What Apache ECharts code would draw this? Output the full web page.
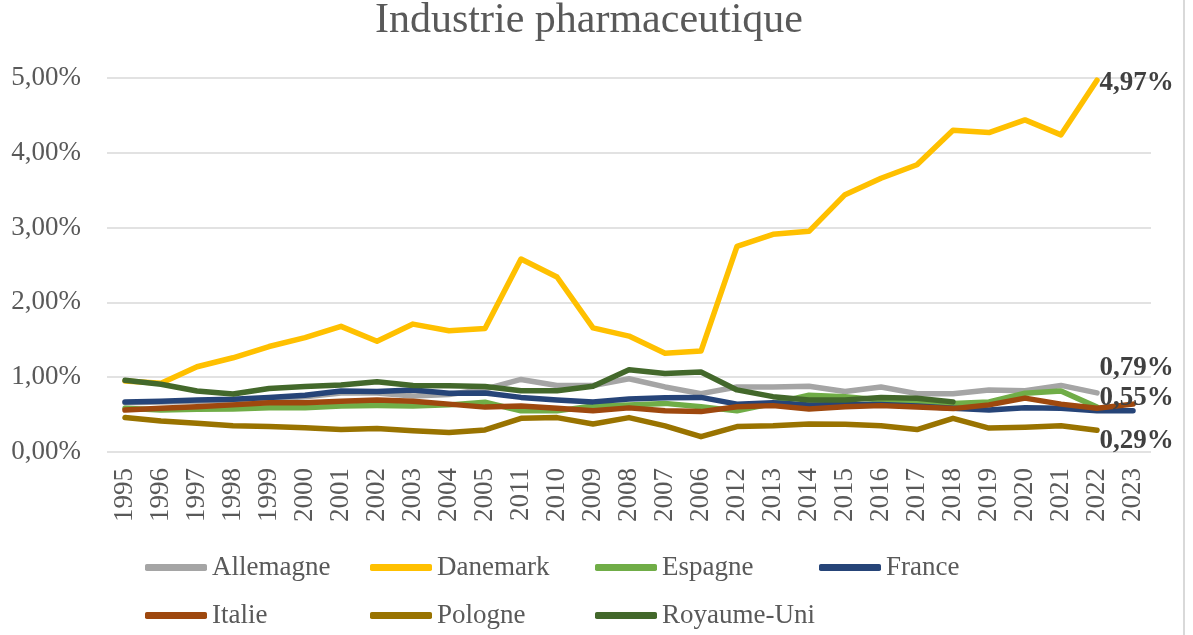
<!DOCTYPE html>
<html>
<head>
<meta charset="utf-8">
<script src="https://cdn.jsdelivr.net/npm/echarts@6/dist/echarts.min.js"></script>
<style>html,body{margin:0;padding:0;background:#fff}#c{width:1193px;height:635px}</style>
</head>
<body>
<div id="c"></div>
<script>
const categories = ['1995','1996','1997','1998','1999','2000','2001','2002','2003','2004','2005','2011','2010','2009','2008','2007','2006','2012','2013','2014','2015','2016','2017','2018','2019','2020','2021','2022','2023'];
const allemagne = [0.66,0.67,0.68,0.69,0.71,0.74,0.79,0.79,0.75,0.77,0.84,0.97,0.89,0.89,0.98,0.87,0.78,0.87,0.87,0.88,0.81,0.87,0.78,0.78,0.83,0.82,0.89,0.79,null];
const danemark = [0.95,0.92,1.14,1.26,1.41,1.53,1.68,1.48,1.71,1.62,1.65,2.58,2.34,1.66,1.55,1.32,1.35,2.75,2.91,2.95,3.44,3.66,3.84,4.30,4.27,4.44,4.24,4.97,null];
const espagne = [0.585,0.56,0.57,0.575,0.59,0.59,0.615,0.62,0.615,0.63,0.665,0.55,0.55,0.615,0.63,0.65,0.605,0.55,0.65,0.76,0.74,0.695,0.67,0.65,0.67,0.785,0.815,0.60,null];
const france = [0.67,0.68,0.695,0.705,0.73,0.76,0.815,0.81,0.83,0.785,0.79,0.73,0.695,0.67,0.71,0.725,0.73,0.64,0.66,0.63,0.635,0.635,0.615,0.585,0.56,0.59,0.585,0.55,0.55];
const italie = [0.56,0.585,0.605,0.63,0.66,0.66,0.68,0.695,0.68,0.64,0.60,0.615,0.585,0.55,0.59,0.55,0.54,0.605,0.62,0.575,0.605,0.62,0.60,0.58,0.63,0.72,0.64,0.585,0.64];
const pologne = [0.46,0.415,0.385,0.35,0.34,0.325,0.30,0.315,0.285,0.26,0.295,0.45,0.46,0.375,0.46,0.35,0.205,0.34,0.35,0.375,0.37,0.35,0.30,0.45,0.32,0.33,0.35,0.29,null];
const royaumeUni = [0.96,0.905,0.815,0.775,0.85,0.875,0.895,0.94,0.89,0.885,0.875,0.82,0.82,0.88,1.10,1.05,1.07,0.83,0.74,0.695,0.695,0.73,0.72,0.67,null,null,null,null,null];
const yTicks = [0,1,2,3,4,5];

const FONT = 'Liberation Serif';
const fmt = v => v.toFixed(2).replace('.', ',') + '%';

const seriesDefs = [
  {name:'Allemagne', data:allemagne, color:'#A5A5A5', lab:{i:27, off:[0,-25]}},
  {name:'Danemark', data:danemark, color:'#FFC000', lab:{i:27, off:[0,3]}},
  {name:'Espagne', data:espagne, color:'#70AD47'},
  {name:'France', data:france, color:'#264478', lab:{i:27, off:[0,-13]}},
  {name:'Italie', data:italie, color:'#9E480E'},
  {name:'Pologne', data:pologne, color:'#997300', lab:{i:27, off:[0,11]}},
  {name:'Royaume-Uni', data:royaumeUni, color:'#43682B'}
];
const legendPos = [[145,565],[370,565],[595,565],[819,565],[145,613],[370,613],[595,613]];

const series = seriesDefs.map(s => {
  const o = {
    name: s.name, type:'line', data: s.data, symbol:'none', smooth:false,
    connectNulls:false,
    color: s.color,
    lineStyle:{color:s.color, width:5.5, cap:'round', join:'round'},
    emphasis:{disabled:true}
  };
  if (s.lab) {
    o.markPoint = {
      symbol:'circle', symbolSize:1, itemStyle:{color:'rgba(0,0,0,0)'},
      data:[{coord:[categories[s.lab.i], s.data[s.lab.i]], value:s.data[s.lab.i],
        label:{show:true, position:'right', distance:2, offset:s.lab.off,
          formatter: p => fmt(p.value), color:'#404040', fontFamily:FONT, fontWeight:'bold', fontSize:27}}]
    };
  }
  return o;
});

const legends = seriesDefs.map((s, k) => ({
  data:[s.name], left: legendPos[k][0], top: legendPos[k][1] - 11, padding:0,
  icon:'roundRect', itemWidth:62, itemHeight:7, itemGap:5,
  selectedMode:false,
  textStyle:{fontFamily:FONT, fontSize:27, color:'#595959', padding:[0,0,0,0]}
}));

const chart = echarts.init(document.getElementById('c'));
chart.setOption({
  backgroundColor:'#fff',
  animation:false,
  title:{text:'Industrie pharmaceutique', left:375, top:0, padding:0,
    textStyle:{fontFamily:FONT, fontSize:42, fontWeight:'normal', color:'#595959'}},
  legend: legends,
  grid:{left:107, right:42, top:78, bottom:183},
  xAxis:{type:'category', data:categories, boundaryGap:true,
    axisLine:{show:false}, axisTick:{show:false},
    axisLabel:{rotate:90, interval:0, margin:16, fontFamily:FONT, fontSize:27, color:'#595959'}},
  yAxis:{type:'value', min:0, max:5, interval:1,
    axisLine:{show:false}, axisTick:{show:false},
    axisLabel:{margin:26, fontFamily:FONT, fontSize:27, color:'#595959', formatter: v => fmt(v)},
    splitLine:{lineStyle:{color:'#D9D9D9', width:1.5}}},
  graphic:[{type:'line', shape:{x1:1184,y1:0,x2:1184,y2:635}, style:{stroke:'#D9D9D9', lineWidth:2}}],
  series: series
});
</script>
</body>
</html>
